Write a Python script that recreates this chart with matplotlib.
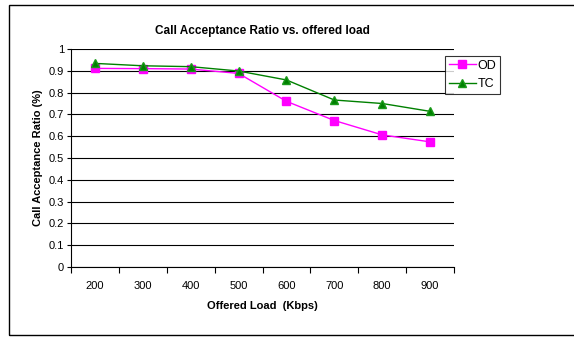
import matplotlib
matplotlib.use('Agg')
import matplotlib.pyplot as plt
from matplotlib.patches import Rectangle

# data
loads = ['200', '300', '400', '500', '600', '700', '800', '900']
od = [0.911, 0.910, 0.908, 0.888, 0.760, 0.672, 0.606, 0.574]
tc = [0.934, 0.923, 0.919, 0.899, 0.858, 0.766, 0.750, 0.714]
yticks = [0, 0.1, 0.2, 0.3, 0.4, 0.5, 0.6, 0.7, 0.8, 0.9, 1]
ytick_labels = ['0', '0.1', '0.2', '0.3', '0.4', '0.5', '0.6', '0.7', '0.8', '0.9', '1']

plt.rcParams['font.family'] = ['Liberation Sans', 'DejaVu Sans']

fig = plt.figure(figsize=(5.74, 3.39), dpi=100)
W, H = 574, 339
ax = fig.add_axes([71 / W, 1 - 267 / H, (454 - 71) / W, (267 - 49) / H])

# outer chart border
fig.patches.append(Rectangle((9 / W, 1 - 335 / H), 1.2, (335 - 5) / H,
                             transform=fig.transFigure, fill=False,
                             edgecolor='black', linewidth=1.0))

x = list(range(len(loads)))
ax.plot(x, od, color='#ff00ff', marker='s', markersize=6, linewidth=1.0, label='OD')
ax.plot(x, tc, color='#008000', marker='^', markersize=6, linewidth=1.0,
        markerfacecolor='#008000', markeredgecolor='#1a9a1a', label='TC')

ax.set_xlim(-0.5, len(loads) - 0.5)
ax.set_ylim(0, 1)
ax.set_yticks(yticks)
ax.set_yticklabels(ytick_labels, fontsize=8)
ax.set_xticks(x)
ax.set_xticklabels(loads, fontsize=8)
ax.set_xticks([i - 0.5 for i in range(len(loads) + 1)], minor=True)
ax.tick_params(axis='x', which='major', length=0, pad=10)
ax.tick_params(axis='x', which='minor', length=4, direction='out', width=0.8)
ax.tick_params(axis='y', length=3, direction='out', width=0.8, pad=2)

ax.grid(axis='y', color='black', linewidth=0.8)
ax.set_axisbelow(True)
for side in ['top', 'right']:
    ax.spines[side].set_visible(False)
ax.spines['left'].set_linewidth(0.8)
ax.spines['bottom'].set_linewidth(0.8)

ax.set_title('Call Acceptance Ratio vs. offered load', fontsize=8.5, fontweight='bold', pad=11)
ax.set_xlabel('Offered Load  (Kbps)', fontsize=8, fontweight='bold', labelpad=7)
ax.set_ylabel('Call Acceptance Ratio (%)', fontsize=8, fontweight='bold', labelpad=4)

leg = ax.legend(loc='upper left', bbox_to_anchor=((445 - 71) / (454 - 71), (267 - 56) / (267 - 49)),
                fontsize=9, frameon=True, fancybox=False, edgecolor='black',
                handlelength=2.2, handletextpad=0.1, borderpad=0.3, labelspacing=0.5,
                borderaxespad=0)
leg.get_frame().set_linewidth(0.8)

fig.savefig('out.png', dpi=100)
